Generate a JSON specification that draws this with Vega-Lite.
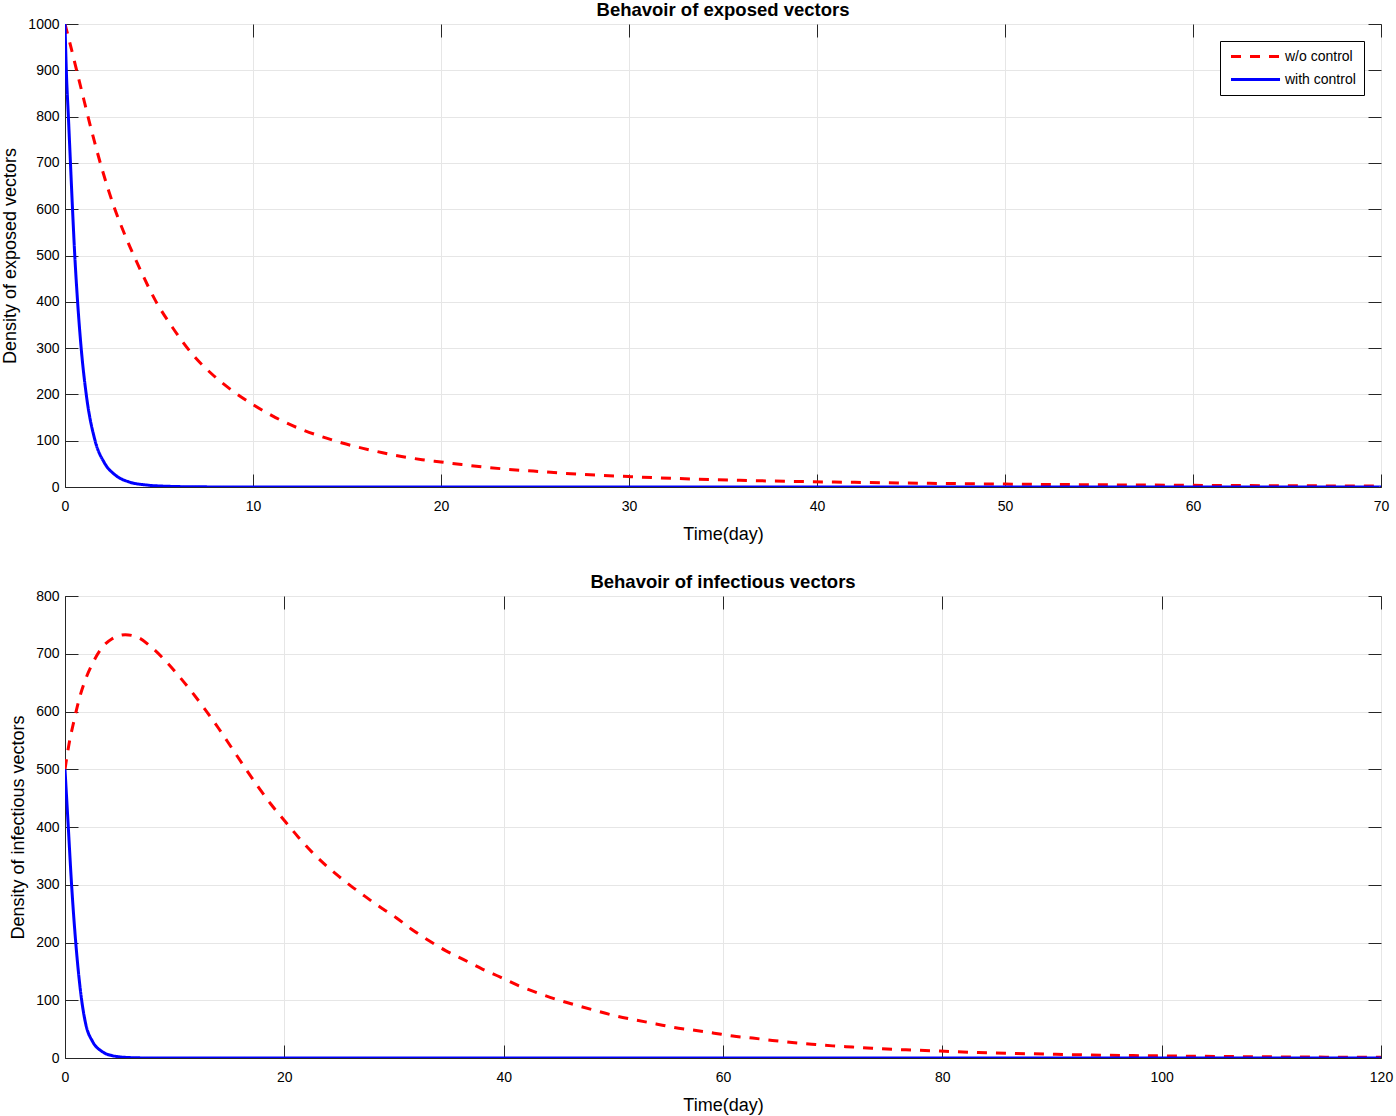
{
  "$schema": "https://vega.github.io/schema/vega-lite/v6.json",
  "padding": {"left": 1, "top": 0, "right": 0, "bottom": 0},
  "background": "white",
  "config": {
    "font": "Liberation Sans",
    "view": {"stroke": "black", "strokeWidth": 1},
    "axis": {
      "labelFontSize": 14,
      "labelColor": "black",
      "labelFlush": false,
      "titleFontSize": 18,
      "titleFontWeight": "normal",
      "titleColor": "black",
      "tickColor": "#262626",
      "tickSize": -13,
      "tickWidth": 1,
      "domainColor": "#262626",
      "gridColor": "#e6e6e6",
      "gridWidth": 1
    },
    "title": {"fontSize": 18.5, "fontWeight": "bold", "color": "black", "font": "Liberation Sans"},
    "concat": {"spacing": 28},
    "legend": {
      "orient": "top-right",
      "offset": 17,
      "strokeColor": "black",
      "fillColor": "white",
      "padding": 8,
      "labelFontSize": 14,
      "labelColor": "black",
      "symbolType": "M-0.75,0H7.42",
      "symbolSize": 144,
      "symbolStrokeWidth": 3,
      "labelOffset": 42,
      "rowPadding": 8
    }
  },
  "datasets": {
    "exposed": [
      {"t": 0, "v": 1000, "series": "w/o control"},
      {"t": 0.21, "v": 967, "series": "w/o control"},
      {"t": 0.83, "v": 865, "series": "w/o control"},
      {"t": 1.45, "v": 764, "series": "w/o control"},
      {"t": 1.99, "v": 684, "series": "w/o control"},
      {"t": 2.61, "v": 605, "series": "w/o control"},
      {"t": 3.23, "v": 540, "series": "w/o control"},
      {"t": 3.94, "v": 475, "series": "w/o control"},
      {"t": 4.82, "v": 402, "series": "w/o control"},
      {"t": 5.71, "v": 345, "series": "w/o control"},
      {"t": 6.77, "v": 287, "series": "w/o control"},
      {"t": 7.84, "v": 243, "series": "w/o control"},
      {"t": 8.9, "v": 208, "series": "w/o control"},
      {"t": 10, "v": 178, "series": "w/o control"},
      {"t": 11.2, "v": 150, "series": "w/o control"},
      {"t": 12.6, "v": 124, "series": "w/o control"},
      {"t": 13.87, "v": 106, "series": "w/o control"},
      {"t": 14.75, "v": 95, "series": "w/o control"},
      {"t": 15.8, "v": 84, "series": "w/o control"},
      {"t": 16.9, "v": 74, "series": "w/o control"},
      {"t": 17.9, "v": 66, "series": "w/o control"},
      {"t": 19, "v": 59, "series": "w/o control"},
      {"t": 20, "v": 54, "series": "w/o control"},
      {"t": 21.1, "v": 48.5, "series": "w/o control"},
      {"t": 22.2, "v": 43.5, "series": "w/o control"},
      {"t": 23.2, "v": 39.5, "series": "w/o control"},
      {"t": 24.3, "v": 36, "series": "w/o control"},
      {"t": 25.4, "v": 33, "series": "w/o control"},
      {"t": 26.4, "v": 30, "series": "w/o control"},
      {"t": 27.5, "v": 27.3, "series": "w/o control"},
      {"t": 28.5, "v": 25, "series": "w/o control"},
      {"t": 30, "v": 22.5, "series": "w/o control"},
      {"t": 31.6, "v": 19.8, "series": "w/o control"},
      {"t": 33.7, "v": 16.8, "series": "w/o control"},
      {"t": 35.9, "v": 14.4, "series": "w/o control"},
      {"t": 38.9, "v": 12, "series": "w/o control"},
      {"t": 42, "v": 10, "series": "w/o control"},
      {"t": 46, "v": 8, "series": "w/o control"},
      {"t": 50, "v": 6.3, "series": "w/o control"},
      {"t": 55, "v": 4.8, "series": "w/o control"},
      {"t": 60, "v": 3.6, "series": "w/o control"},
      {"t": 65, "v": 2.7, "series": "w/o control"},
      {"t": 70, "v": 2, "series": "w/o control"},
      {"t": 0, "v": 1000, "series": "with control"},
      {"t": 0.07, "v": 900, "series": "with control"},
      {"t": 0.18, "v": 800, "series": "with control"},
      {"t": 0.29, "v": 700, "series": "with control"},
      {"t": 0.4, "v": 600, "series": "with control"},
      {"t": 0.52, "v": 500, "series": "with control"},
      {"t": 0.67, "v": 400, "series": "with control"},
      {"t": 0.86, "v": 300, "series": "with control"},
      {"t": 1.13, "v": 200, "series": "with control"},
      {"t": 1.6, "v": 100, "series": "with control"},
      {"t": 2.1, "v": 52, "series": "with control"},
      {"t": 2.7, "v": 25, "series": "with control"},
      {"t": 3.4, "v": 11, "series": "with control"},
      {"t": 4.3, "v": 4.5, "series": "with control"},
      {"t": 5.5, "v": 1.5, "series": "with control"},
      {"t": 7, "v": 0.4, "series": "with control"},
      {"t": 10, "v": 0, "series": "with control"},
      {"t": 70, "v": 0, "series": "with control"}
    ],
    "infectious": [
      {"t": 0, "v": 500, "series": "w/o control"},
      {"t": 0.36, "v": 543, "series": "w/o control"},
      {"t": 0.82, "v": 584, "series": "w/o control"},
      {"t": 1.33, "v": 624, "series": "w/o control"},
      {"t": 1.88, "v": 656, "series": "w/o control"},
      {"t": 2.48, "v": 682, "series": "w/o control"},
      {"t": 3.39, "v": 711, "series": "w/o control"},
      {"t": 4.3, "v": 726, "series": "w/o control"},
      {"t": 5.5, "v": 733, "series": "w/o control"},
      {"t": 6.7, "v": 728, "series": "w/o control"},
      {"t": 7.9, "v": 711, "series": "w/o control"},
      {"t": 9.15, "v": 688, "series": "w/o control"},
      {"t": 10.36, "v": 662, "series": "w/o control"},
      {"t": 11.6, "v": 633, "series": "w/o control"},
      {"t": 12.8, "v": 603, "series": "w/o control"},
      {"t": 14, "v": 571, "series": "w/o control"},
      {"t": 15.2, "v": 537, "series": "w/o control"},
      {"t": 16.4, "v": 503, "series": "w/o control"},
      {"t": 17.6, "v": 470, "series": "w/o control"},
      {"t": 18.8, "v": 439, "series": "w/o control"},
      {"t": 20.06, "v": 410, "series": "w/o control"},
      {"t": 21.3, "v": 382, "series": "w/o control"},
      {"t": 22.5, "v": 357, "series": "w/o control"},
      {"t": 24, "v": 330, "series": "w/o control"},
      {"t": 25, "v": 314, "series": "w/o control"},
      {"t": 26, "v": 299, "series": "w/o control"},
      {"t": 27, "v": 285, "series": "w/o control"},
      {"t": 28, "v": 271, "series": "w/o control"},
      {"t": 29, "v": 258, "series": "w/o control"},
      {"t": 30.2, "v": 243, "series": "w/o control"},
      {"t": 31.6, "v": 223, "series": "w/o control"},
      {"t": 33.2, "v": 203, "series": "w/o control"},
      {"t": 34.7, "v": 186, "series": "w/o control"},
      {"t": 36.4, "v": 170, "series": "w/o control"},
      {"t": 38.05, "v": 154, "series": "w/o control"},
      {"t": 39.7, "v": 140, "series": "w/o control"},
      {"t": 41.4, "v": 125, "series": "w/o control"},
      {"t": 43.2, "v": 112, "series": "w/o control"},
      {"t": 44.9, "v": 101, "series": "w/o control"},
      {"t": 46.7, "v": 91, "series": "w/o control"},
      {"t": 48.4, "v": 82, "series": "w/o control"},
      {"t": 50.2, "v": 73, "series": "w/o control"},
      {"t": 52, "v": 66, "series": "w/o control"},
      {"t": 53.9, "v": 59, "series": "w/o control"},
      {"t": 55.5, "v": 53, "series": "w/o control"},
      {"t": 57.4, "v": 48, "series": "w/o control"},
      {"t": 59.2, "v": 43, "series": "w/o control"},
      {"t": 60.9, "v": 38, "series": "w/o control"},
      {"t": 62.7, "v": 34.5, "series": "w/o control"},
      {"t": 64.5, "v": 30.5, "series": "w/o control"},
      {"t": 66.3, "v": 27, "series": "w/o control"},
      {"t": 68.1, "v": 24, "series": "w/o control"},
      {"t": 70, "v": 21, "series": "w/o control"},
      {"t": 71.8, "v": 19, "series": "w/o control"},
      {"t": 73.6, "v": 17, "series": "w/o control"},
      {"t": 75.4, "v": 15, "series": "w/o control"},
      {"t": 77.3, "v": 13.8, "series": "w/o control"},
      {"t": 79.1, "v": 12.5, "series": "w/o control"},
      {"t": 81, "v": 11, "series": "w/o control"},
      {"t": 83.3, "v": 9.5, "series": "w/o control"},
      {"t": 86, "v": 8.2, "series": "w/o control"},
      {"t": 90, "v": 6.5, "series": "w/o control"},
      {"t": 95, "v": 4.8, "series": "w/o control"},
      {"t": 100, "v": 3.6, "series": "w/o control"},
      {"t": 105, "v": 2.7, "series": "w/o control"},
      {"t": 110, "v": 2, "series": "w/o control"},
      {"t": 115, "v": 1.5, "series": "w/o control"},
      {"t": 120, "v": 1.1, "series": "w/o control"},
      {"t": 0, "v": 500, "series": "with control"},
      {"t": 0.3, "v": 400, "series": "with control"},
      {"t": 0.6, "v": 300, "series": "with control"},
      {"t": 0.98, "v": 200, "series": "with control"},
      {"t": 1.52, "v": 100, "series": "with control"},
      {"t": 1.9, "v": 58, "series": "with control"},
      {"t": 2.5, "v": 29, "series": "with control"},
      {"t": 3.4, "v": 11, "series": "with control"},
      {"t": 4.6, "v": 3, "series": "with control"},
      {"t": 6.1, "v": 0.6, "series": "with control"},
      {"t": 8, "v": 0, "series": "with control"},
      {"t": 120, "v": 0, "series": "with control"}
    ]
  },
  "vconcat": [
    {
      "title": {"text": "Behavoir of exposed vectors", "offset": -2},
      "width": 1316,
      "height": 463,
      "layer": [
        {
          "data": {"name": "exposed"},
          "mark": {"type": "line", "strokeWidth": 3, "interpolate": "monotone", "clip": true},
          "encoding": {
            "x": {"field": "t", "type": "quantitative", "scale": {"domain": [0, 70], "nice": false, "zero": false},
                  "axis": {"title": "Time(day)", "values": [0, 10, 20, 30, 40, 50, 60, 70], "format": "d", "labelPadding": 25, "titlePadding": 12}},
            "y": {"field": "v", "type": "quantitative", "scale": {"domain": [0, 1000], "nice": false},
                  "axis": {"title": "Density of exposed vectors", "values": [0, 100, 200, 300, 400, 500, 600, 700, 800, 900, 1000], "format": "d", "labelPadding": 19, "titlePadding": 8}},
            "color": {"field": "series", "type": "nominal", "scale": {"domain": ["w/o control", "with control"], "range": ["#ff0000", "#0000ff"]}, "legend": {"title": null}},
            "strokeDash": {"field": "series", "type": "nominal", "scale": {"domain": ["w/o control", "with control"], "range": [[10, 9], [1, 0]]}, "legend": {"title": null}}
          }
        },
        {
          "data": {"name": "exposed"},
          "mark": {"type": "point", "opacity": 0},
          "encoding": {
            "x": {"field": "t", "type": "quantitative", "scale": {"domain": [0, 70], "nice": false, "zero": false},
                  "axis": {"orient": "top", "title": null, "labels": false, "grid": false, "domain": false, "values": [0, 10, 20, 30, 40, 50, 60, 70]}},
            "y": {"field": "v", "type": "quantitative", "scale": {"domain": [0, 1000], "nice": false},
                  "axis": {"orient": "right", "title": null, "labels": false, "grid": false, "domain": false, "values": [0, 100, 200, 300, 400, 500, 600, 700, 800, 900, 1000]}}
          }
        }
      ],
      "resolve": {"scale": {"x": "independent", "y": "independent"}}
    },
    {
      "title": {"text": "Behavoir of infectious vectors", "offset": -2},
      "width": 1316,
      "height": 462,
      "layer": [
        {
          "data": {"name": "infectious"},
          "mark": {"type": "line", "strokeWidth": 3, "interpolate": "monotone", "clip": true},
          "encoding": {
            "x": {"field": "t", "type": "quantitative", "scale": {"domain": [0, 120], "nice": false, "zero": false},
                  "axis": {"title": "Time(day)", "values": [0, 20, 40, 60, 80, 100, 120], "format": "d", "labelPadding": 25, "titlePadding": 12}},
            "y": {"field": "v", "type": "quantitative", "scale": {"domain": [0, 800], "nice": false},
                  "axis": {"title": "Density of infectious vectors", "values": [0, 100, 200, 300, 400, 500, 600, 700, 800], "format": "d", "labelPadding": 19, "titlePadding": 8}},
            "color": {"field": "series", "type": "nominal", "scale": {"domain": ["w/o control", "with control"], "range": ["#ff0000", "#0000ff"]}, "legend": {"title": null}},
            "strokeDash": {"field": "series", "type": "nominal", "scale": {"domain": ["w/o control", "with control"], "range": [[10, 9], [1, 0]]}, "legend": {"title": null}}
          }
        },
        {
          "data": {"name": "infectious"},
          "mark": {"type": "point", "opacity": 0},
          "encoding": {
            "x": {"field": "t", "type": "quantitative", "scale": {"domain": [0, 120], "nice": false, "zero": false},
                  "axis": {"orient": "top", "title": null, "labels": false, "grid": false, "domain": false, "values": [0, 20, 40, 60, 80, 100, 120]}},
            "y": {"field": "v", "type": "quantitative", "scale": {"domain": [0, 800], "nice": false},
                  "axis": {"orient": "right", "title": null, "labels": false, "grid": false, "domain": false, "values": [0, 100, 200, 300, 400, 500, 600, 700, 800]}}
          }
        }
      ],
      "resolve": {"scale": {"x": "independent", "y": "independent"}}
    }
  ]
}
